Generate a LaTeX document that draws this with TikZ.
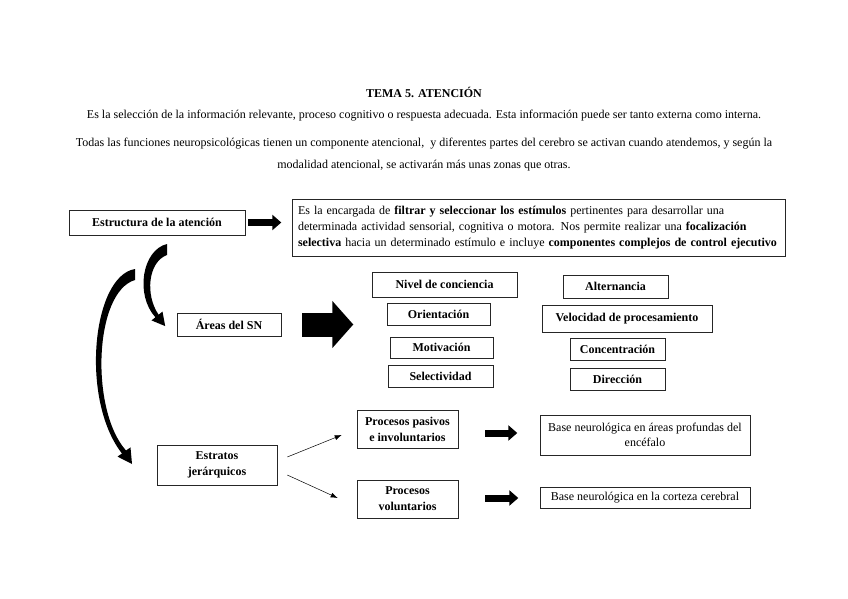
\documentclass[tikz,border=0pt,12pt]{standalone}
\usepackage{fontspec}
\setmainfont{Liberation Serif}
\usetikzlibrary{arrows.meta,calc,positioning}
\tikzset{
  box/.style={draw=black!85,line width=0.6pt,inner sep=2pt,font=\bfseries,align=center},
  plainbox/.style={draw=black!85,line width=0.6pt,inner sep=2pt,align=center},
  txt/.style={inner sep=0pt,align=center},
  blk/.style={line width=7pt,-{Triangle[length=9pt,width=15pt]}},
  bigblk/.style={line width=24pt,-{Triangle[length=21pt,width=46pt]}},
  thinarr/.style={line width=0.5pt,-{Latex[length=7pt,width=5pt]}},
  curvarr/.style={fill=black}
}

\begin{document}
\begin{tikzpicture}[x=1pt,y=-1pt]
\fill[white] (0,0) rectangle (848,599);
\useasboundingbox (0,0) rectangle (848,599);

% heading
\node[txt,font=\bfseries] (title) at (424,92) {TEMA 5. ATENCIÓN};
\node[txt] (intro1) at (424,116) {Es la selección de la información relevante, proceso cognitivo o respuesta adecuada. Esta información puede ser tanto externa como interna.};
\node[txt] (intro2) at (424,144) {Todas las funciones neuropsicológicas tienen un componente atencional,\ \ y diferentes partes del cerebro se activan cuando atendemos, y según la};
\node[txt] (intro3) at (424,166) {modalidad atencional, se activarán más unas zonas que otras.};

% structure
\node[box,minimum width=176,minimum height=25] (estr) at (157,222.5) {Estructura de la atención};
\node[plainbox,text width=481pt,minimum height=57,inner sep=6pt,align=left] (def) at (538.5,227.5)
  {Es la encargada de \textbf{filtrar y seleccionar los estímulos} pertinentes para desarrollar una\\[1.5pt]
   determinada actividad sensorial, cognitiva o motora. Nos permite realizar una \textbf{focalización}\\[1.5pt]
   \textbf{selectiva} hacia un determinado estímulo e incluye \textbf{componentes complejos de control ejecutivo}};
\draw[blk] ([xshift=3pt]estr.east) -- ++(33,0);

% areas
\node[box,minimum width=104,minimum height=23] (areas) at (229,324.5) {Áreas del SN};
\draw[bigblk] ([xshift=21pt]areas.east) -- ++(51,0);

\node[box,minimum width=145,minimum height=25] (nivel) at (444.5,284.5) {Nivel de conciencia};
\node[box,minimum width=103,minimum height=22] (orient) at (438.5,314) {Orientación};
\node[box,minimum width=103,minimum height=21] (motiv) at (441.5,347.5) {Motivación};
\node[box,minimum width=105,minimum height=22] (selec) at (440.5,376) {Selectividad};
\node[box,minimum width=105,minimum height=23] (altern) at (615.5,286.5) {Alternancia};
\node[box,minimum width=170,minimum height=27] (veloc) at (627,318.5) {Velocidad de procesamiento};
\node[box,minimum width=95,minimum height=22] (concen) at (617.5,349) {Concentración};
\node[box,minimum width=95,minimum height=22] (direc) at (617.5,379) {Dirección};

% estratos
\node[box,minimum width=120,minimum height=40] (estrat) at (217,465) {Estratos\\[1.5pt]jerárquicos};
\node[box,minimum width=101,minimum height=38] (pasiv) at (407.5,429) {Procesos pasivos\\[1.5pt]e involuntarios};
\node[box,minimum width=101,minimum height=38] (volun) at (407.5,499) {Procesos\\[1.5pt]voluntarios};
\node[plainbox,minimum width=210,minimum height=40] (base1) at (645,435) {Base neurológica en áreas profundas del\\[1pt]encéfalo};
\node[plainbox,minimum width=210,minimum height=21] (base2) at (645,497.5) {Base neurológica en la corteza cerebral};

\draw[thinarr] ($(estrat.east)+(10,-8)$) -- ($(pasiv.west)+(-15,6)$);
\draw[thinarr] ($(estrat.east)+(10,10)$) -- ($(volun.west)+(-19,-1)$);
\draw[blk] ($(pasiv.east)+(27,4)$) -- ++(32,0);
\draw[blk] ($(volun.east)+(27,-1)$) -- ++(33,0);

% curved arrows
\fill[curvarr] (167,244) .. controls (142,250) and (135,295) .. (155.4,317.3) -- (151.5,320.4)
  -- (165.2,326.1) -- (162.5,311.6) -- (158.6,314.7) .. controls (145,295) and (148,262) .. (167,255) -- cycle;
\fill[curvarr] (135,269) .. controls (92,276) and (80,400) .. (122,453.5) -- (117.5,456.6)
  -- (132,464) -- (130.5,447.4) -- (126,450.5) .. controls (90,410) and (94,292) .. (135,280) -- cycle;
\end{tikzpicture}
\end{document}
